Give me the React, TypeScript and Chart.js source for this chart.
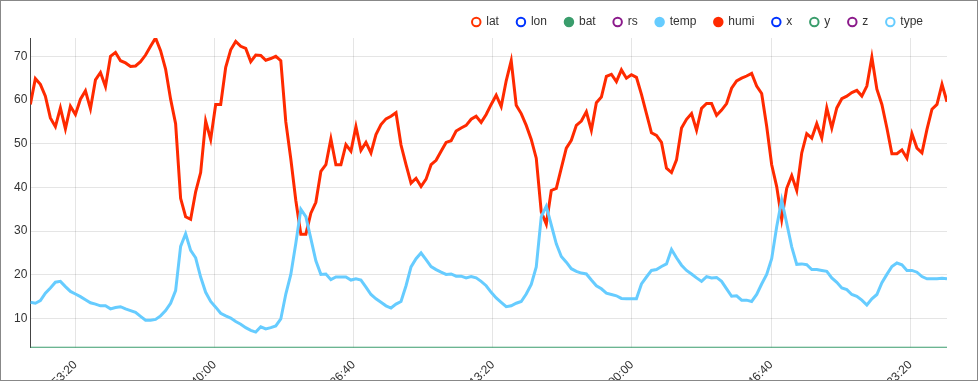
import React, { useEffect, useRef } from 'react';
import { Chart, registerables } from 'chart.js';

Chart.register(...registerables);

const seriesNames = ['lat', 'lon', 'bat', 'rs', 'temp', 'humi', 'x', 'y', 'z', 'type'];
const seriesColors = ['#ff3300', '#0033ff', '#3a9d6c', '#8b1a8b', '#66ccff', '#ff2a00', '#0033ff', '#3a9d6c', '#8b1a8b', '#66ccff'];
const seriesFilled = [false, false, true, false, true, true, false, false, false, false];

// first sample time (epoch seconds, UTC) and sampling interval
const startTime = 1600066760;
const stepSeconds = 360;
const xTickStepSeconds = 10000;
const yTickStep = 10;

const humi = [
  59.0, 64.9, 63.6, 60.9, 55.9, 53.9, 58.2, 53.4, 58.6, 56.7,
  60.2, 62.1, 58.0, 64.6, 66.3, 63.1, 70.0, 70.9, 69.0, 68.5,
  67.7, 67.8, 68.8, 70.3, 72.3, 74.2, 71.3, 67.1, 60.2, 54.6,
  37.5, 33.3, 32.7, 39.0, 43.4, 55.2, 51.0, 59.0, 59.0, 67.5,
  71.5, 73.4, 72.3, 71.8, 68.8, 70.3, 70.2, 69.1, 69.5, 70.0,
  69.0, 55.0, 46.5, 37.0, 29.3, 29.3, 34.1, 36.6, 43.7, 45.2,
  51.1, 45.2, 45.2, 49.8, 48.3, 53.9, 48.5, 50.3, 47.9, 52.1,
  54.4, 55.7, 56.3, 57.1, 49.7, 45.2, 41.0, 42.1, 40.2, 41.9,
  45.2, 46.2, 48.3, 50.3, 50.7, 52.9, 53.6, 54.2, 55.6, 56.3,
  54.9, 56.7, 59.0, 61.1, 58.5, 64.4, 69.0, 58.8, 56.9, 54.2,
  51.0, 46.7, 34.4, 31.6, 39.3, 39.8, 44.4, 49.0, 50.8, 54.2,
  55.2, 57.3, 53.1, 59.4, 60.7, 65.4, 65.9, 64.2, 66.9, 65.0,
  65.8, 65.2, 61.3, 56.9, 52.5, 51.9, 50.3, 44.4, 43.4, 46.3,
  53.6, 55.6, 56.9, 53.1, 58.1, 59.2, 59.2, 56.5, 57.7, 59.2,
  62.7, 64.4, 65.0, 65.5, 66.1, 63.2, 61.5, 54.0, 45.2, 40.2,
  32.7, 39.8, 42.7, 39.3, 47.9, 52.3, 51.3, 54.6, 51.3, 58.2,
  53.6, 58.2, 60.3, 60.9, 61.7, 62.2, 60.9, 63.2, 69.8, 62.5,
  59.0, 53.6, 47.7, 47.7, 48.6, 46.7, 52.3, 49.0, 47.9, 53.3,
  57.9, 59.0, 63.6, 59.6,
];

const temp = [
  13.7, 13.5, 14.1, 15.8, 17.0, 18.3, 18.5, 17.3, 16.2, 15.6,
  15.0, 14.3, 13.6, 13.3, 12.9, 12.9, 12.2, 12.5, 12.7, 12.2,
  11.8, 11.4, 10.5, 9.6, 9.6, 9.8, 10.6, 11.8, 13.5, 16.4,
  26.5, 29.4, 25.6, 23.9, 19.5, 16.0, 13.9, 12.6, 11.2, 10.6,
  10.1, 9.3, 8.7, 7.9, 7.3, 6.9, 8.1, 7.6, 7.9, 8.3,
  9.9, 15.6, 20.1, 27.2, 35.0, 33.3, 28.3, 23.2, 20.1, 20.2,
  18.9, 19.5, 19.5, 19.5, 18.8, 19.1, 18.8, 17.2, 15.5, 14.5,
  13.7, 12.9, 12.4, 13.3, 13.9, 17.5, 21.8, 23.7, 25.0, 23.5,
  21.9, 21.2, 20.6, 20.1, 20.2, 19.7, 19.7, 19.3, 19.6, 19.3,
  18.5, 17.5, 16.0, 14.7, 13.7, 12.7, 12.9, 13.5, 13.9, 15.6,
  17.8, 21.8, 33.3, 35.7, 31.4, 27.1, 24.2, 22.9, 21.4, 20.8,
  20.4, 20.2, 18.8, 17.5, 16.8, 15.8, 15.5, 15.2, 14.6, 14.5,
  14.5, 14.5, 17.9, 19.5, 21.0, 21.2, 21.9, 22.5, 25.8, 23.9,
  22.2, 21.0, 20.2, 19.3, 18.5, 19.6, 19.3, 19.4, 18.5, 16.8,
  15.1, 15.2, 14.2, 14.2, 13.9, 15.5, 17.9, 20.1, 23.7, 31.0,
  37.1, 31.8, 26.4, 22.4, 22.5, 22.3, 21.2, 21.2, 21.0, 20.8,
  19.3, 18.3, 17.0, 16.6, 15.5, 15.1, 14.2, 13.1, 14.5, 15.5,
  18.2, 20.1, 21.9, 22.7, 22.3, 21.0, 21.0, 20.6, 19.6, 19.1,
  19.1, 19.1, 19.2, 19.1,
];

const bat = [
  3.3, 3.3, 3.3, 3.3, 3.3, 3.3, 3.3, 3.3, 3.3, 3.3, 3.3, 3.3, 3.3, 3.3, 3.3, 3.3, 3.3, 3.3, 3.3, 3.3, 3.3, 3.3, 3.3,
  3.3, 3.3, 3.3, 3.3, 3.3, 3.3, 3.3, 3.3, 3.3, 3.3, 3.3, 3.3, 3.3, 3.3, 3.3, 3.3, 3.3, 3.3, 3.3, 3.3, 3.3, 3.3, 3.3,
  3.3, 3.3, 3.3, 3.3, 3.3, 3.3, 3.3, 3.3, 3.3, 3.3, 3.3, 3.3, 3.3, 3.3, 3.3, 3.3, 3.3, 3.3, 3.3, 3.3, 3.3, 3.3, 3.3,
  3.3, 3.3, 3.3, 3.3, 3.3, 3.3, 3.3, 3.3, 3.3, 3.3, 3.3, 3.3, 3.3, 3.3, 3.3, 3.3, 3.3, 3.3, 3.3, 3.3, 3.3, 3.3, 3.3,
  3.3, 3.3, 3.3, 3.3, 3.3, 3.3, 3.3, 3.3, 3.3, 3.3, 3.3, 3.3, 3.3, 3.3, 3.3, 3.3, 3.3, 3.3, 3.3, 3.3, 3.3, 3.3, 3.3,
  3.3, 3.3, 3.3, 3.3, 3.3, 3.3, 3.3, 3.3, 3.3, 3.3, 3.3, 3.3, 3.3, 3.3, 3.3, 3.3, 3.3, 3.3, 3.3, 3.3, 3.3, 3.3, 3.3,
  3.3, 3.3, 3.3, 3.3, 3.3, 3.3, 3.3, 3.3, 3.3, 3.3, 3.3, 3.3, 3.3, 3.3, 3.3, 3.3, 3.3, 3.3, 3.3, 3.3, 3.3, 3.3, 3.3,
  3.3, 3.3, 3.3, 3.3, 3.3, 3.3, 3.3, 3.3, 3.3, 3.3, 3.3, 3.3, 3.3, 3.3, 3.3, 3.3, 3.3, 3.3, 3.3, 3.3, 3.3, 3.3, 3.3,
];

const FONT = 'Arial, "Liberation Sans", Helvetica, sans-serif';

function formatTime(v: number): string {
  return new Date(v * 1000).toISOString().substring(11, 19);
}

export default function App() {
  const ref = useRef<HTMLCanvasElement | null>(null);

  useEffect(() => {
    if (!ref.current) return;
    const times = humi.map((_, i) => startTime + i * stepSeconds);
    const seriesData: Record<string, number[]> = { humi, temp, bat };
    const datasets = seriesNames.map((name, k) => {
      const arr = seriesData[name];
      return {
        label: name,
        data: arr ? arr.map((v, i) => ({ x: times[i], y: v })) : [],
        borderColor: seriesColors[k],
        backgroundColor: seriesFilled[k] ? seriesColors[k] : '#ffffff',
        borderWidth: name === 'bat' ? 2 : 3,
        pointRadius: 0,
        pointHoverRadius: 0,
        pointStyle: 'circle',
        tension: 0,
        fill: false,
      };
    });
    const allY = [...humi, ...temp, ...bat];
    const xMin = times[0];
    const xMax = times[times.length - 1];
    const yMin = Math.min(...allY);
    const yMax = Math.max(...allY);

    const legendShift = {
      id: 'legendShift',
      afterLayout(chart: any) {
        if (chart.legend) chart.legend.right -= 6;
      },
    };

    const chart = new Chart(ref.current, {
      type: 'line',
      data: { datasets } as any,
      plugins: [legendShift],
      options: {
        animation: false,
        responsive: false,
        devicePixelRatio: 1,
        layout: { padding: { top: -3, left: 10, right: 30, bottom: 0 } },
        plugins: {
          tooltip: { enabled: false },
          legend: {
            position: 'top',
            align: 'end',
            labels: {
              usePointStyle: true,
              boxWidth: 8,
              boxHeight: 6,
              padding: 18,
              color: '#333',
              font: { size: 12, family: FONT },
              generateLabels: (c: any) => {
                const items = Chart.defaults.plugins.legend.labels.generateLabels(c);
                return items.map((it: any, k: number) => ({
                  ...it,
                  fillStyle: seriesFilled[k] ? seriesColors[k] : '#ffffff',
                  strokeStyle: seriesColors[k],
                  lineWidth: 2,
                  pointStyle: 'circle',
                }));
              },
            },
          },
        },
        scales: {
          x: {
            type: 'linear',
            min: xMin,
            max: xMax,
            grid: { color: 'rgba(0,0,0,0.1)', drawTicks: false },
            border: { display: false },
            ticks: {
              minRotation: 45,
              maxRotation: 45,
              autoSkip: false,
              padding: 10,
              color: '#333',
              font: { size: 12, family: FONT },
              callback: (v: any) => formatTime(Number(v)),
            },
            afterBuildTicks: (s: any) => {
              const out: any[] = [];
              for (let v = Math.ceil(xMin / xTickStepSeconds) * xTickStepSeconds; v <= xMax; v += xTickStepSeconds) {
                out.push({ value: v });
              }
              s.ticks = out;
            },
          },
          y: {
            type: 'linear',
            min: yMin,
            max: yMax,
            grid: { color: 'rgba(0,0,0,0.1)', drawTicks: false },
            border: { color: '#444', width: 1 },
            ticks: {
              padding: 3,
              color: '#333',
              font: { size: 12, family: FONT },
            },
            afterBuildTicks: (s: any) => {
              const out: any[] = [];
              for (let v = Math.ceil(yMin / yTickStep) * yTickStep; v <= yMax; v += yTickStep) {
                out.push({ value: v });
              }
              s.ticks = out;
            },
          },
        },
      } as any,
    });
    return () => chart.destroy();
  }, []);

  return (
    <div
      style={{
        position: 'absolute',
        left: 0,
        top: 0,
        width: 978,
        height: 381,
        boxSizing: 'border-box',
        border: '1px solid #888',
        overflow: 'hidden',
        background: '#fff',
      }}
    >
      <canvas ref={ref} width={976} height={410} style={{ display: 'block' }} />
    </div>
  );
}
